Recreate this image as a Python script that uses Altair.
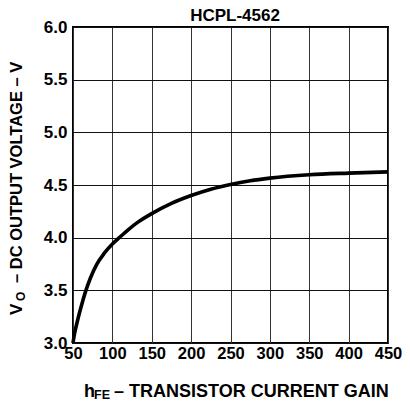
import altair as alt
import pandas as pd

# Data
hfe = [50, 52, 55, 58, 62, 66, 72, 80, 90, 100, 108, 120, 132, 150, 175, 200, 225, 250, 275, 300, 350, 400, 450]
vo = [3.0, 3.09, 3.19, 3.28, 3.39, 3.49, 3.615, 3.745, 3.855, 3.94, 3.995, 4.075, 4.145, 4.228, 4.325, 4.40, 4.46, 4.505, 4.54, 4.565, 4.597, 4.613, 4.625]

x_ticks = [50, 100, 150, 200, 250, 300, 350, 400, 450]
y_ticks = [3.0, 3.5, 4.0, 4.5, 5.0, 5.5, 6.0]

chart_title = "HCPL-4562"
x_title_main = "h"
x_title_sub = "FE"
x_title_rest = "\u2013 TRANSISTOR CURRENT GAIN"
y_title_main = "V"
y_title_sub = "O"
y_title_rest = "\u2013 DC OUTPUT VOLTAGE \u2013 V"

FONT = "Liberation Sans"
W, H = 315, 316

df = pd.DataFrame({"hfe": hfe, "vo": vo})

x_enc = alt.X(
    "hfe:Q",
    scale=alt.Scale(domain=[50, 450], nice=False, zero=False),
    axis=alt.Axis(values=x_ticks, title=None, grid=True, ticks=False, domain=False,
                  labelFont=FONT, labelFontSize=16.5, labelFontWeight="bold", labelColor="black",
                  labelPadding=2, labelFlush=False, format="d",
                  gridColor="#333", gridWidth=1, gridOpacity=1),
)
y_enc = alt.Y(
    "vo:Q",
    scale=alt.Scale(domain=[3.0, 6.0], nice=False, zero=False),
    axis=alt.Axis(values=y_ticks, title=None, grid=True, ticks=False, domain=False,
                  labelFont=FONT, labelFontSize=17, labelFontWeight="bold", labelColor="black",
                  labelPadding=6, labelFlush=False, format=".1f",
                  gridColor="#111", gridWidth=1, gridOpacity=1),
)

line = alt.Chart(df).mark_line(color="black", strokeWidth=3.6, interpolate="monotone").encode(x=x_enc, y=y_enc)

one = pd.DataFrame({"a": [0]})


def txt(text, x, y, size, angle=0, align="left", baseline="middle"):
    kw = dict(text=text, font=FONT, fontSize=size, fontWeight="bold", color="black",
              align=align, baseline=baseline)
    if angle:
        kw["angle"] = angle
    return alt.Chart(one).mark_text(**kw).encode(x=alt.value(x), y=alt.value(y))


layers = [
    line,
    txt(chart_title, 162, -6, 17, align="center", baseline="alphabetic"),
    # x title
    txt(x_title_main, 11, 370, 18, baseline="alphabetic"),
    txt(x_title_sub, 21, 372, 12.5, baseline="alphabetic"),
    txt(x_title_rest, 41, 370, 18, baseline="alphabetic"),
    # y title (rotated)
    txt(y_title_main, -56, 288, 17, angle=270),
    txt(y_title_sub, -52, 274, 12, angle=270),
    txt(y_title_rest, -56, 256, 16.5, angle=270),
]

chart = alt.layer(*layers).properties(
    width=W, height=H, autosize="none",
    padding={"left": 65, "top": 19, "right": 14, "bottom": 58},
).configure_view(stroke="black", strokeWidth=2)

chart.save("out.html", embed_options={"renderer": "svg", "actions": False})
